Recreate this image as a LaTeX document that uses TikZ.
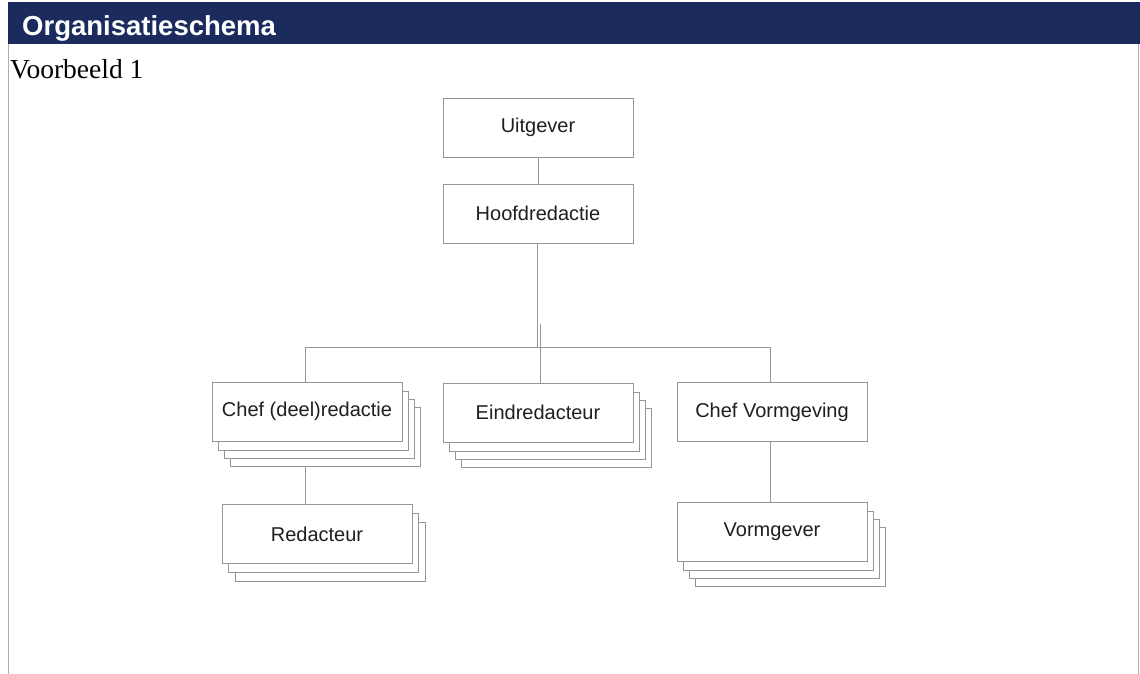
\documentclass[tikz,border=0pt]{standalone}
\usepackage{fontspec}
\setmainfont{Liberation Serif}
\newfontfamily\arialfont{Liberation Sans}
\usetikzlibrary{shadows,calc}
\definecolor{navy}{RGB}{28,43,94}
\definecolor{edge}{RGB}{150,150,150}
\definecolor{frame}{RGB}{175,175,175}
\begin{document}
\begin{tikzpicture}[x=1pt,y=-1pt,
  unit/.style={draw=edge, fill=white, line width=0.9pt,
    minimum width=190pt, minimum height=59pt, inner sep=0pt,
    font=\arialfont\fontsize{20}{23}\selectfont, text=black!88},
  backcopy/.style 2 args={general shadow={shadow xshift=#1pt, shadow yshift=-#2pt,
    draw=edge, fill=white, line width=0.9pt}},
  stack3/.style={backcopy={18}{25}, backcopy={12}{17}, backcopy={6}{9}},
  stack2/.style={backcopy={13}{18}, backcopy={6}{9}},
  link/.style={draw=edge, line width=0.9pt}]

% page and frame
\useasboundingbox (0,0) rectangle (1140,674);
\fill[white] (0,0) rectangle (1140,674);
\draw[frame, line width=1pt] (8,43) -- (8,674);
\draw[frame, line width=1pt] (1138,43) -- (1138,674);

% title bar
\fill[navy] (8,2) rectangle (1140,44);
\node[anchor=base west, inner sep=0pt, text=white,
  font=\arialfont\bfseries\fontsize{27.5}{31}\selectfont] (title) at (22,36) {Organisatieschema};
\node[anchor=base west, inner sep=0pt, font=\fontsize{27.5}{31}\selectfont] (sub) at (10,79) {Voorbeeld 1};

% organisation units
\node[unit] (uitg) at (538,127.5) {Uitgever};
\node[unit] (hoofd) at (538,213.5) {Hoofdredactie};
\node[unit, stack3] (chef) at (307,411.5) {Chef (deel)redactie};
\node[unit, stack3] (eind) at (538,412.5) {Eindredacteur};
\node[unit] (chefv) at (772,412) {Chef Vormgeving};
\node[unit, stack2] (red) at (317,534) {Redacteur};
\node[unit, stack3] (vorm) at (772,531.5) {Vormgever};

% connectors
\coordinate (busL) at (305,347);
\coordinate (busR) at (770,347);
\coordinate (busM) at (540,324);
\draw[link] (uitg.south) -- (hoofd.north);
\draw[link] (hoofd.south -| 537,0) -- (537,347);
\draw[link] (busL) -- (busR);
\draw[link] (busL) -- (busL |- chef.north);
\draw[link] (busM) -- (busM |- eind.north);
\draw[link] (busR) -- (busR |- chefv.north);
\draw[link] ($(chef.south -| busL)+(0,26)$) -- (busL |- red.north);
\draw[link] (chefv.south -| busR) -- (busR |- vorm.north);
\end{tikzpicture}
\end{document}
